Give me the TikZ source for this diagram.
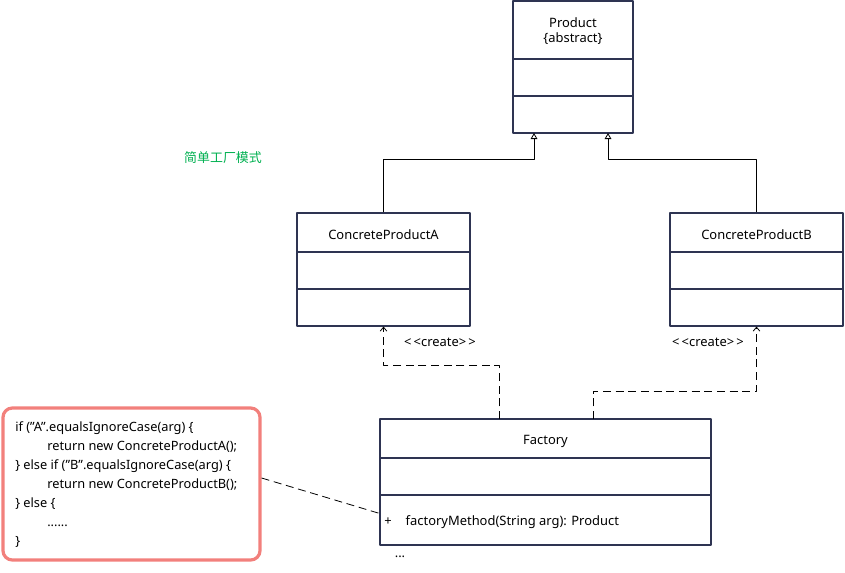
\documentclass[tikz,border=0pt]{standalone}
\usepackage{fontspec}
\setmainfont{Noto Sans}
\newfontfamily\cjk{Noto Sans CJK SC}
\usetikzlibrary{arrows.meta}
\definecolor{boxline}{RGB}{46,52,82}
\definecolor{notered}{RGB}{242,128,124}
\definecolor{labgreen}{RGB}{0,176,80}
\newcommand\qt{\char"22\relax}
\tikzset{
	umlbox/.style={draw=boxline,line width=0.8pt,inner sep=0pt},
	inh/.style={-{Triangle[open,length=4.5pt,width=5pt]},line width=0.6pt},
	create/.style={-{Straight Barb[length=3pt,width=5pt]},line width=0.6pt,dash pattern=on 6pt off 3.5pt},
	notelink/.style={line width=0.6pt,dash pattern=on 6pt off 3.5pt},
	notebox/.style={draw=notered,line width=2.4pt,rounded corners=7pt,inner sep=0pt},
}
\begin{document}
\begin{tikzpicture}[x=0.75pt,y=-0.75pt,line join=round,font=\fontsize{9.7}{11.5}\selectfont]
	\useasboundingbox (0,0) rectangle (845,572);
	% lop truu tuong
	\node[umlbox,minimum width=90pt,minimum height=99pt] (prod) at (573,67) {};
	\node[align=center] (prodname) at (573,31) {Product\\\{abstract\}};
	\draw[boxline,line width=0.8pt] (prod.west |- 0,59) -- (prod.east |- 0,59)
		(prod.west |- 0,96) -- (prod.east |- 0,96);
	% hai lop cu the
	\node[umlbox,minimum width=129.75pt,minimum height=84.75pt] (pa) at (383.5,269.5) {};
	\node (paname) at (383.5,235) {ConcreteProductA};
	\node[umlbox,minimum width=129.75pt,minimum height=84.75pt] (pb) at (756.5,269.5) {};
	\node (pbname) at (756.5,235) {ConcreteProductB};
	\foreach \c in {pa,pb}
		\draw[boxline,line width=0.8pt] (\c.west |- 0,252) -- (\c.east |- 0,252)
			(\c.west |- 0,289) -- (\c.east |- 0,289);
	% lop nha may
	\node[umlbox,minimum width=248.25pt,minimum height=94.5pt] (fac) at (545.5,482) {};
	\node (facname) at (545.5,441) {Factory};
	\draw[boxline,line width=0.8pt] (fac.west |- 0,458) -- (fac.east |- 0,458)
		(fac.west |- 0,495) -- (fac.east |- 0,495);
	\node (plus) at (388,522) {+};
	\node[anchor=west] (mth) at (401,522) {factoryMethod(String arg): Product};
	\node (more) at (400,557) {...};
	% ke thua
	\coordinate (tA) at (534,133);
	\coordinate (tB) at (608,133);
	\draw[inh] (pa.north) -- ++(0,-53) -| (tA);
	\draw[inh] (pb.north) -- ++(0,-53) -| (tB);
	% tao doi tuong
	\coordinate (fA) at (499,419);
	\coordinate (fB) at (593,419);
	\draw[create] (fA) -- ++(0,-54) -| (pa.south);
	\draw[create] (fB) -- ++(0,-28) -| (pb.south);
	\node (crA) at (440,342) {{<}\,{<}create{>}\,{>}};
	\node (crB) at (708,342) {{<}\,{<}create{>}\,{>}};
	% ghi chu
	\node[notebox,minimum width=192.75pt,minimum height=114pt] (note) at (131.5,484) {};
	\node[anchor=north west,align=left,inner sep=0pt,font=\fontsize{9.6}{14.25}\selectfont] (code) at (15,421)
		{if (\qt A\qt.equalsIgnoreCase(arg) \{\\
		\hspace*{24pt}return new ConcreteProductA();\\
		\} else if (\qt B\qt.equalsIgnoreCase(arg) \{\\
		\hspace*{24pt}return new ConcreteProductB();\\
		\} else \{\\
		\hspace*{24pt}......\\
		\}};
	\draw[notelink] ([yshift=4.5pt]note.east) -- (plus.north west);
	\node[text=labgreen] (title) at (223,158) {\cjk 简单工厂模式};
\end{tikzpicture}
\end{document}
